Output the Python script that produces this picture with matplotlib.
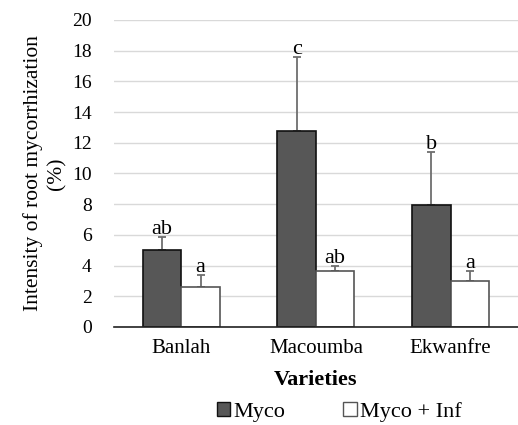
import numpy as np
import matplotlib.pyplot as plt
from matplotlib.patches import Patch

# Root mycorrhization intensity per variety
varieties = ['Banlah', 'Macoumba', 'Ekwanfre']
myco = [5.0, 12.8, 7.95]
myco_err = [0.85, 4.8, 3.45]
myco_inf = [2.6, 3.65, 3.02]
myco_inf_err = [0.8, 0.35, 0.65]
myco_letters = ['ab', 'c', 'b']
myco_inf_letters = ['a', 'ab', 'a']

plt.rcParams['font.family'] = 'Liberation Serif'

fig = plt.figure(figsize=(5.18, 4.25), dpi=100)
ax = fig.add_axes([0.22, 0.2306, 0.78, 0.7224])

x = np.arange(len(varieties))
w = 0.286

ax.bar(x - w / 2, myco, w, color='#575757', edgecolor='#111111', linewidth=1.2, zorder=3)
ax.bar(x + w / 2, myco_inf, w, color='white', edgecolor='#555555', linewidth=1.2, zorder=3)
ax.errorbar(x - w / 2, myco, yerr=[np.zeros(3), myco_err], fmt='none',
            ecolor='#6e6e6e', elinewidth=1.3, capsize=3, capthick=1.3, zorder=2)
ax.errorbar(x + w / 2, myco_inf, yerr=[np.zeros(3), myco_inf_err], fmt='none',
            ecolor='#6e6e6e', elinewidth=1.3, capsize=3, capthick=1.3, zorder=2)

for xi, v, e, t in zip(x - w / 2, myco, myco_err, myco_letters):
    ax.text(xi, v + e - 0.15, t, ha='center', va='bottom', fontsize=16)
for xi, v, e, t in zip(x + w / 2, myco_inf, myco_inf_err, myco_inf_letters):
    ax.text(xi, v + e - 0.15, t, ha='center', va='bottom', fontsize=16)

ax.set_xlim(-0.5, 2.5)
ax.set_ylim(0, 20)
ax.set_yticks(range(0, 21, 2))
ax.set_xticks(x)
ax.set_xticklabels(varieties, fontsize=15)
ax.tick_params(axis='y', labelsize=14, length=0, pad=16)
ax.tick_params(axis='x', length=0, pad=9)
ax.grid(axis='y', color='#d9d9d9', linewidth=1, zorder=0)
for s in ['top', 'right', 'left']:
    ax.spines[s].set_visible(False)
ax.spines['bottom'].set_color('#222222')
ax.spines['bottom'].set_linewidth(1.2)
ax.spines['bottom'].set_zorder(4)

ax.set_ylabel('Intensity of root mycorrhization\n(%)', fontsize=15.5, linespacing=1.3, labelpad=4)
ax.set_xlabel('Varieties', fontsize=16, fontweight='bold', labelpad=8)

handles = [Patch(facecolor='#575757', edgecolor='#111111', label='Myco'),
           Patch(facecolor='white', edgecolor='#555555', label='Myco + Inf')]
fig.legend(handles=handles, loc='center', bbox_to_anchor=(0.655, 0.03), ncol=2,
           frameon=False, fontsize=16, handlelength=0.6, handleheight=0.6,
           handletextpad=0.15, columnspacing=2.6)

fig.savefig('out.png', dpi=100)
